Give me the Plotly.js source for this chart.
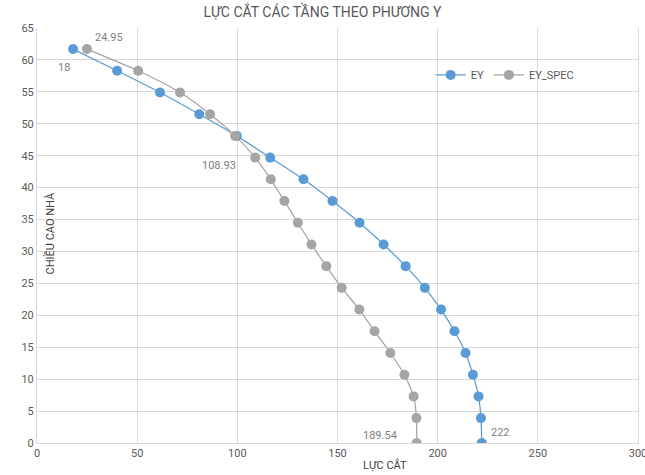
<!DOCTYPE html>
<html>
<head>
<meta charset="utf-8">
<script src="https://cdn.plot.ly/plotly-3.0.1.min.js"></script>
<style>html,body{margin:0;padding:0;background:#fff;}#chart{width:645px;height:475px;}</style>
</head>
<body>
<div id="chart"></div>
<script>
// Story heights (m)
const heights = [0, 3.9, 7.3, 10.7, 14.1, 17.5, 20.9, 24.3, 27.7, 31.1, 34.5, 37.9, 41.3, 44.7, 48.1, 51.5, 54.9, 58.3, 61.7];
// Story shear EY
const ey = [222, 221.6, 220.4, 217.6, 213.9, 208.4, 201.7, 193.6, 184.0, 173.0, 161.0, 147.5, 133.0, 116.4, 99.7, 81.0, 61.4, 40.0, 18];
// Story shear EY_SPEC
const eySpec = [189.54, 189.4, 188.0, 183.4, 176.4, 168.5, 160.9, 152.1, 144.4, 137.0, 130.2, 123.5, 116.7, 108.93, 98.9, 86.4, 71.4, 50.5, 24.95];
const xTicks = [0, 50, 100, 150, 200, 250, 300];
const yTicks = [0, 5, 10, 15, 20, 25, 30, 35, 40, 45, 50, 55, 60, 65];
const chartTitle = "LỰC CẮT CÁC TẦNG THEO PHƯƠNG Y";
const xTitle = "LỰC CẮT";
const yTitle = "CHIỀU CAO NHÀ";

const FONT = "'Roboto', 'Liberation Sans', sans-serif";
const blue = "#5b9bd5", grey = "#a5a5a5";

const traces = [
  {x: ey, y: heights, name: "EY", type: "scatter", mode: "lines+markers",
   line: {color: blue, width: 1.25, shape: "spline", smoothing: 0.6},
   marker: {color: blue, size: 10}},
  {x: eySpec, y: heights, name: "EY_SPEC", type: "scatter", mode: "lines+markers",
   line: {color: grey, width: 1.25, shape: "spline", smoothing: 0.6},
   marker: {color: grey, size: 10}}
];

const last = heights.length - 1;
const lblFont = {family: FONT, size: 11, color: "#7f7f7f"};
const annotations = [
  {x: ey[last], y: heights[last], text: String(ey[last]), xshift: -9, yshift: -18, showarrow: false, font: lblFont},
  {x: eySpec[last], y: heights[last], text: String(eySpec[last]), xshift: 22, yshift: 12, showarrow: false, font: lblFont},
  {x: eySpec[13], y: heights[13], text: String(eySpec[13]), xshift: -36, yshift: -8, showarrow: false, font: lblFont},
  {x: eySpec[0], y: heights[0], text: String(eySpec[0]), xshift: -37, yshift: 8, showarrow: false, font: lblFont},
  {x: ey[0], y: heights[0], text: String(ey[0]), xshift: 19, yshift: 11, showarrow: false, font: lblFont},
  {x: 0.579, y: 0, xref: "paper", yref: "paper", yshift: -31, text: xTitle, showarrow: false,
   font: {family: FONT, size: 11, color: "#404040"}, xanchor: "center", yanchor: "bottom"},
  {x: 0, y: 0.505, xref: "paper", yref: "paper", xshift: 4, text: yTitle, textangle: -90, showarrow: false,
   font: {family: FONT, size: 11, color: "#404040"}, xanchor: "left", yanchor: "middle"}
];

const layout = {
  width: 645, height: 475,
  margin: {l: 37, r: 7, t: 28, b: 32},
  paper_bgcolor: "#fff", plot_bgcolor: "#fff",
  title: {text: chartTitle, x: 0.5, xanchor: "center", y: 0.975, yanchor: "middle",
          font: {family: FONT, size: 14, color: "#595959"}},
  font: {family: FONT, size: 11, color: "#595959"},
  xaxis: {range: [0, 300], tickvals: xTicks, ticktext: xTicks.map(String), showgrid: true, gridcolor: "#d9d9d9",
          gridwidth: 1, zeroline: false, showline: true, linecolor: "#d9d9d9", ticks: "",
          ticklabeloverflow: "allow",
          tickfont: {family: FONT, size: 11, color: "#595959"}},
  yaxis: {range: [0, 65], tickvals: yTicks, ticktext: yTicks.map(String), showgrid: true, gridcolor: "#d9d9d9",
          gridwidth: 1, zeroline: false, showline: true, mirror: true, linecolor: "#d9d9d9", ticks: "",
          ticklabeloverflow: "allow",
          tickfont: {family: FONT, size: 11, color: "#595959"}},
  legend: {orientation: "h", x: 0.655, y: 0.887, xanchor: "left", yanchor: "middle",
           bgcolor: "rgba(0,0,0,0)", font: {family: FONT, size: 11, color: "#595959"}},
  annotations: annotations,
  showlegend: true
};

Plotly.newPlot("chart", traces, layout, {displayModeBar: false, staticPlot: true});
</script>
</body>
</html>
